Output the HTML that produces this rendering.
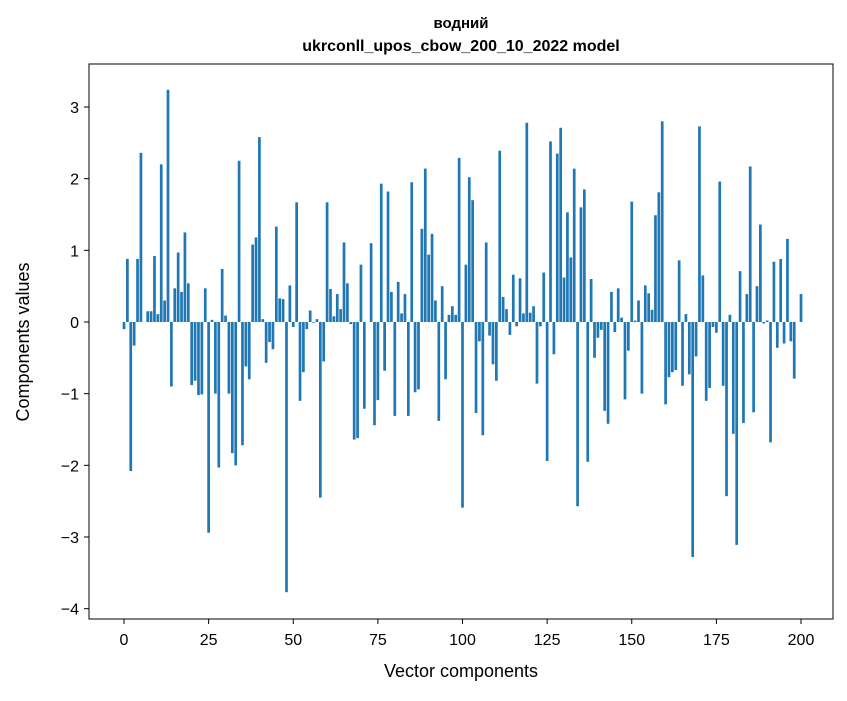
<!DOCTYPE html>
<html><head><meta charset="utf-8"><style>
body{margin:0;background:#fff;}
svg text{font-family:"Liberation Sans","DejaVu Sans",sans-serif;fill:#000;}
</style></head><body>
<svg id="chart" width="847" height="696" xmlns="http://www.w3.org/2000/svg">
<rect width="847" height="696" fill="#fff"/>
<text x="461" y="28" font-size="15" font-weight="bold" text-anchor="middle">водний</text>
<text x="461" y="51" font-size="16" font-weight="bold" text-anchor="middle">ukrconll_upos_cbow_200_10_2022 model</text>
<g id="bars"></g>
<g id="xticks"></g>
<g id="yticks"></g>
<rect x="89" y="64" width="744" height="555" fill="none" stroke="#000" stroke-width="1"/>
<text x="461" y="677" font-size="18" text-anchor="middle">Vector components</text>
<text x="0" y="0" font-size="18" text-anchor="middle" transform="translate(29,342) rotate(-90)">Components values</text>
</svg>
<script>
const values=[-0.1,0.88,-2.08,-0.33,0.88,2.36,0,0.15,0.15,0.92,0.11,2.2,0.3,3.24,-0.9,0.47,0.97,0.42,1.25,0.54,
-0.88,-0.82,-1.02,-1.01,0.47,-2.94,0.03,-1.0,-2.03,0.74,0.09,-1.0,-1.83,-2.0,2.25,-1.72,-0.62,-0.8,1.08,1.18,
2.58,0.04,-0.57,-0.28,-0.38,1.33,0.33,0.32,-3.77,0.51,-0.07,1.67,-1.1,-0.7,-0.1,0.16,-0.01,0.04,-2.45,-0.55,
1.67,0.46,0.08,0.39,0.18,1.11,0.54,-0.03,-1.64,-1.62,0.8,-1.21,0.0,1.1,-1.44,-1.09,1.93,-0.68,1.82,0.42,
-1.31,0.56,0.12,0.39,-1.31,1.95,-0.98,-0.94,1.3,2.14,0.94,1.23,0.3,-1.38,0.5,-0.8,0.1,0.22,0.1,2.29,
-2.59,0.8,2.02,1.7,-1.27,-0.27,-1.58,1.11,-0.19,-0.59,-0.82,2.39,0.35,0.18,-0.18,0.66,-0.06,0.61,0.12,2.78,
0.13,0.22,-0.86,-0.06,0.69,-1.94,2.52,-0.45,2.35,2.71,0.62,1.53,0.9,2.14,-2.57,1.6,1.85,-1.95,0.6,-0.5,
-0.22,-0.11,-1.24,-1.42,0.42,-0.14,0.47,0.06,-1.08,-0.4,1.68,0.02,0.3,-1.0,0.51,0.4,0.17,1.49,1.81,2.8,
-1.15,-0.77,-0.7,-0.67,0.86,-0.89,0.11,-0.73,-3.28,-0.48,2.73,0.65,-1.1,-0.92,-0.07,-0.15,1.96,-0.89,-2.43,0.1,-1.56,
-3.11,0.71,-1.41,0.39,2.17,-1.26,0.5,1.36,-0.02,0.02,-1.68,0.84,-0.36,0.88,-0.3,1.16,-0.27,-0.79,0.0,0.39];
const xTicks=[0,25,50,75,100,125,150,175,200];
const yTicks=[-4,-3,-2,-1,0,1,2,3];
const NS="http://www.w3.org/2000/svg";
function xs(v){return 124+v*(801-124)/200;}
function ys(v){return 322-v*71.67;}
const bw=0.8*(801-124)/200;
const bars=document.getElementById('bars');
values.forEach((v,i)=>{
  const r=document.createElementNS(NS,'rect');
  
  
  r.setAttribute('x',xs(i)-bw/2);
  r.setAttribute('y',Math.min(ys(v),ys(0)));
  r.setAttribute('width',bw);
  r.setAttribute('height',Math.abs(ys(v)-ys(0)));
  r.setAttribute('fill','#1f77b4');
  bars.appendChild(r);
});
const xg=document.getElementById('xticks');
xTicks.forEach(t=>{
  const l=document.createElementNS(NS,'line');
  
  
  l.setAttribute('x1',xs(t));l.setAttribute('x2',xs(t));l.setAttribute('y1',619);l.setAttribute('y2',624);l.setAttribute('stroke','#000');
  xg.appendChild(l);
  const tx=document.createElementNS(NS,'text');
  
  
  tx.setAttribute('x',xs(t));tx.setAttribute('y',645);tx.setAttribute('font-size','16');tx.setAttribute('text-anchor','middle');
  tx.textContent=t;
  xg.appendChild(tx);
});
const yg=document.getElementById('yticks');
yTicks.forEach(t=>{
  const l=document.createElementNS(NS,'line');
  
  
  l.setAttribute('x1',84);l.setAttribute('x2',89);l.setAttribute('y1',ys(t));l.setAttribute('y2',ys(t));l.setAttribute('stroke','#000');
  yg.appendChild(l);
  const tx=document.createElementNS(NS,'text');
  
  
  tx.setAttribute('x',79);tx.setAttribute('y',ys(t)+6);tx.setAttribute('font-size','16');tx.setAttribute('text-anchor','end');
  tx.textContent=t<0?'\u2212'+Math.abs(t):t;
  yg.appendChild(tx);
});
</script>
</body></html>
